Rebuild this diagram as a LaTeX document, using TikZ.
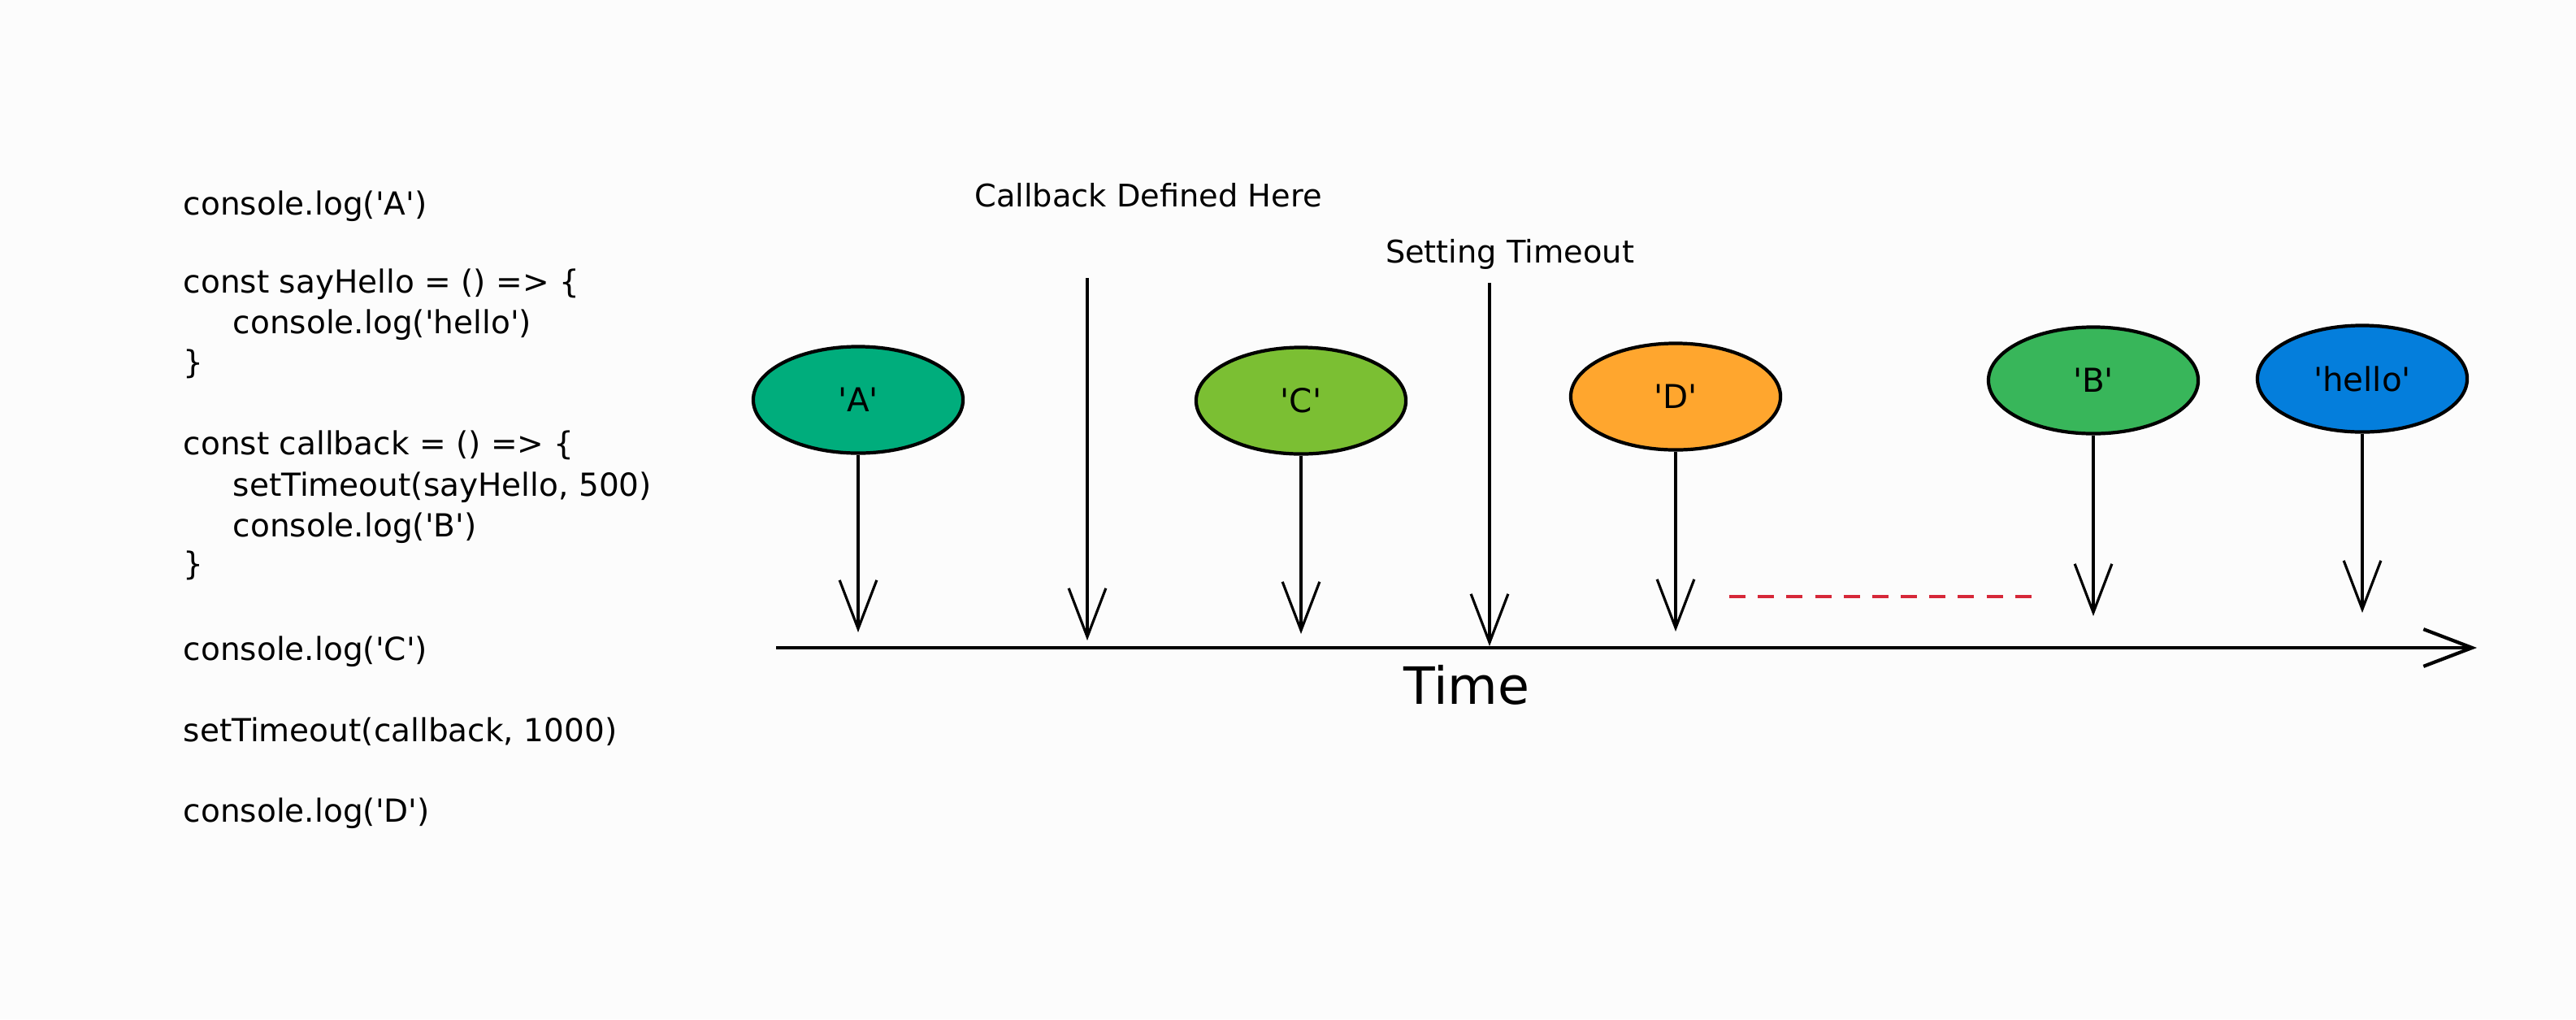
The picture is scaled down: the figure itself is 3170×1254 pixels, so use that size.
\documentclass[tikz,border=0pt]{standalone}
\usepackage{fontspec}
\setmainfont{DejaVu Sans}
\setmonofont{DejaVu Sans}
\usetikzlibrary{arrows.meta,shapes.geometric}
\definecolor{cA}{HTML}{00AD7C}
\definecolor{cC}{HTML}{7BBF33}
\definecolor{cD}{HTML}{FFA62E}
\definecolor{cB}{HTML}{38B65A}
\definecolor{cH}{HTML}{047EDC}
\definecolor{dashred}{HTML}{D62839}
\definecolor{bg}{HTML}{FCFCFC}
\begin{document}
\begin{tikzpicture}[x=0.01cm,y=-0.01cm,
  code/.style={anchor=west,inner sep=0pt,font=\ttfamily\fontsize{11.1}{13}\selectfont},
  ball/.style={ellipse,draw=black,line width=1.2pt,minimum width=2.58cm,minimum height=1.31cm,inner sep=0pt,font=\ttfamily\fontsize{11.5}{13}\selectfont},
  drop/.style={line width=0.9pt,-{Straight Barb[length=17pt,width=13pt]}},
  lbl/.style={inner sep=0pt,font=\ttfamily\fontsize{10.9}{13}\selectfont},
  axisline/.style={line width=1.2pt,-{Straight Barb[length=17pt,width=13pt]}},
  waitline/.style={dashred,line width=1.4pt,dash pattern=on 5.7pt off 4.3pt}]
\fill[bg] (0,0) rectangle (3170,1254);
\useasboundingbox (0,0) rectangle (3170,1254);

% code
\node[code] (c1) at (225,254) {console.log('A')};
\node[code] (c2) at (225,350) {const sayHello = () => \{};
\node[code] (c3) at (286,400) {console.log('hello')};
\node[code] (c4) at (225,448) {\}};
\node[code] (c5) at (225,548) {const callback = () => \{};
\node[code] (c6) at (286,600) {setTimeout(sayHello, 500)};
\node[code] (c7) at (286,650) {console.log('B')};
\node[code] (c8) at (225,696) {\}};
\node[code] (c9) at (225,802) {console.log('C')};
\node[code] (c10) at (225,900) {setTimeout(callback, 1000)};
\node[code] (c11) at (225,1001) {console.log('D')};

% labels
\node[lbl] (lcb) at (1413,240) {Callback Defined Here};
\node[lbl] (lst) at (1858,313) {Setting Timeout};
\node[inner sep=0pt,font=\ttfamily\fontsize{18}{20}\selectfont] (time) at (1805,843) {Time};

% balls
\node[ball,fill=cA] (A) at (1056,492) {'A'};
\node[ball,fill=cC] (C) at (1601,493) {'C'};
\node[ball,fill=cD] (D) at (2062,488) {'D'};
\node[ball,fill=cB] (B) at (2576,468) {'B'};
\node[ball,fill=cH] (H) at (2907,466) {'hello'};

% coordinates
\coordinate (tA) at (1056,778);
\coordinate (tC) at (1601,780);
\coordinate (tD) at (2062,777);
\coordinate (tB) at (2576,758);
\coordinate (tH) at (2907,754);
\coordinate (cbtop) at (1338,342);
\coordinate (cbtip) at (1338,788);
\coordinate (sttop) at (1833,348);
\coordinate (sttip) at (1833,795);
\coordinate (ax0) at (955,797);
\coordinate (ax1) at (3048,797);
\coordinate (w0) at (2128,734);
\coordinate (w1) at (2505,734);

% axis
\draw[axisline] (ax0) -- (ax1);

% drops
\draw[drop] (A) -- (tA);
\draw[drop] (C) -- (tC);
\draw[drop] (D) -- (tD);
\draw[drop] (B) -- (tB);
\draw[drop] (H) -- (tH);
\draw[drop] (cbtop) -- (cbtip);
\draw[drop] (sttop) -- (sttip);

% waiting
\draw[waitline] (w0) -- (w1);
\end{tikzpicture}
\end{document}
